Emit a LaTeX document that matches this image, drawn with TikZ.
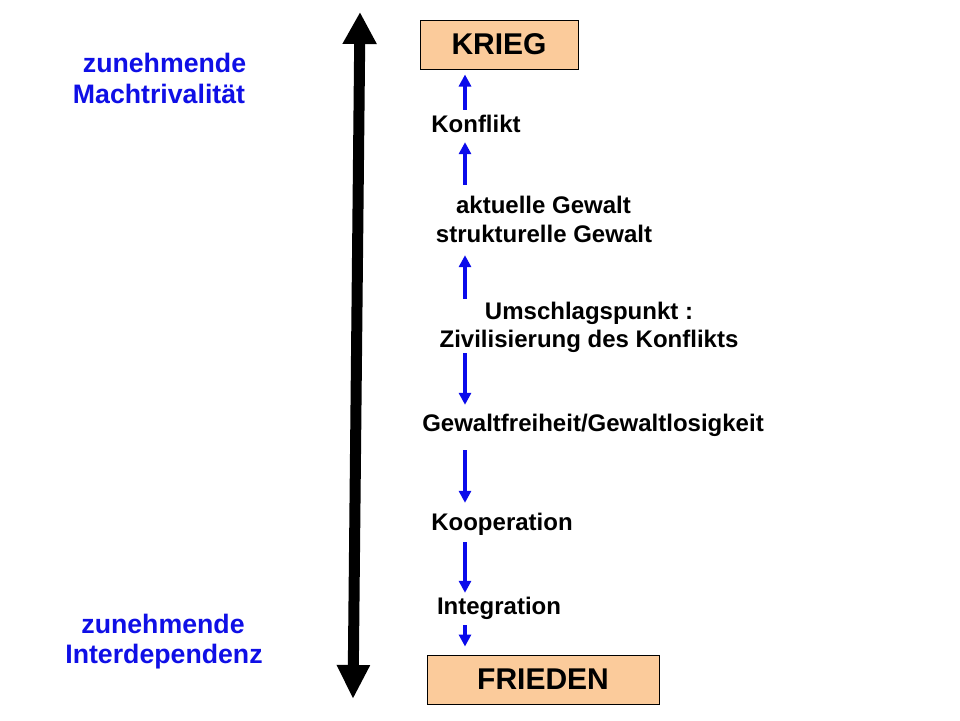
\documentclass[tikz,border=0pt]{standalone}
\usepackage{fontspec}
\setmainfont{Liberation Sans}
\usetikzlibrary{arrows.meta}
\definecolor{peach}{RGB}{251,203,155}
\definecolor{tblue}{RGB}{15,15,230}
\definecolor{ablue}{RGB}{10,10,235}
\tikzset{
  lbl/.style={anchor=base, inner sep=0pt, text height=17.5pt, text depth=5pt,
    font=\fontsize{24}{29}\selectfont\bfseries},
  side/.style={anchor=base, inner sep=0pt, text=tblue,
    font=\fontsize{26.7}{31}\selectfont\bfseries},
  endbox/.style={draw=black, line width=1pt, fill=peach, inner sep=0pt,
    font=\fontsize{30}{36}\selectfont\bfseries},
  barrow/.style={draw=ablue, line width=3.6pt, -{Triangle[length=12pt,width=12pt]}},
  bigarrow/.style={draw=black, line width=11pt,
    {Triangle[length=32pt,width=32pt]}-{Triangle[length=34pt,width=31pt]}}
}
\begin{document}
\begin{tikzpicture}[x=1pt,y=-1pt]
\useasboundingbox (0,0) rectangle (960,720);
\fill[white] (0,0) rectangle (960,720);

% end boxes
\node[endbox, minimum width=158pt, minimum height=49pt] (krieg) at (499,44.5) {KRIEG};
\node[endbox, minimum width=232pt, minimum height=49pt] (frieden) at (543,679.5) {FRIEDEN};

% middle labels
\node[lbl] (konflikt) at (476,132) {Konflikt};
\node[lbl] (akt) at (543.5,213) {aktuelle Gewalt};
\node[lbl] (strk) at (544,242) {strukturelle Gewalt};
\node[lbl] (ums) at (589,319) {Umschlagspunkt :};
\node[lbl] (ziv) at (589,347) {Zivilisierung des Konflikts};
\node[lbl] (gew) at (593,431) {Gewaltfreiheit/Gewaltlosigkeit};
\node[lbl] (koop) at (502,530) {Kooperation};
\node[lbl] (integ) at (499,614) {Integration};

% side labels
\node[side] (z1) at (164.5,72) {zunehmende};
\node[side] (macht) at (159,103) {Machtrivalität};
\node[side] (z2) at (163,633) {zunehmende};
\node[side] (inter) at (164,663) {Interdependenz};

% blue arrows
\coordinate (ax) at (465,0);
\draw[barrow, shorten <=4.5pt, shorten >=5pt] (ax |- konflikt.north) -- (ax |- krieg.south);
\draw[barrow, shorten <=10.5pt, shorten >=5pt] (ax |- akt.north) -- (ax |- konflikt.south);
\draw[barrow, shorten <=2.5pt, shorten >=8pt] (ax |- ums.north) -- (ax |- strk.south);
\draw[barrow, shorten <=1pt, shorten >=8.5pt] (ax |- ziv.south) -- (ax |- gew.north);
\draw[barrow, shorten <=14pt, shorten >=9.5pt] (ax |- gew.south) -- (ax |- koop.north);
\draw[barrow, shorten <=7pt, shorten >=3.5pt] (ax |- koop.south) -- (ax |- integ.north);
\draw[barrow, shorten <=6pt, shorten >=8pt] (ax |- integ.south) -- (ax |- frieden.north);

% big double arrow
\coordinate (btop) at (360,12);
\coordinate (bbot) at (353,699);
\draw[bigarrow] (btop) -- (bbot);
\end{tikzpicture}
\end{document}
